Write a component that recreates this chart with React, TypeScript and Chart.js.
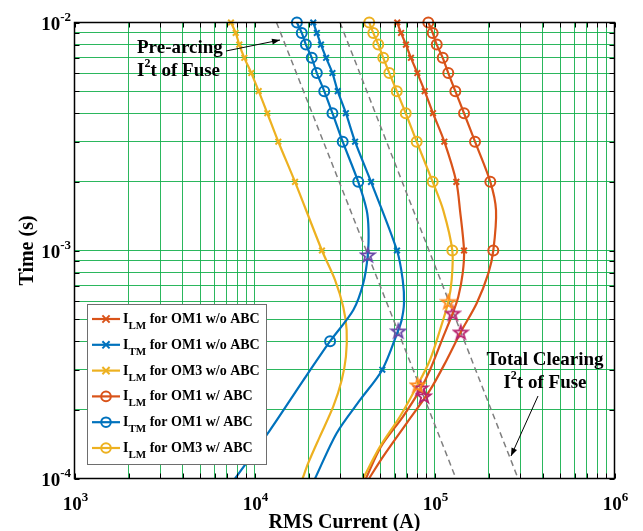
import React, { useEffect, useRef } from 'react';
import { Chart, registerables } from 'chart.js';

Chart.register(...registerables);

// ---------------- data (time in s, RMS current in A) ----------------
const lmOm1WoT = [0.01, 0.009, 0.008, 0.007, 0.006, 0.005, 0.004, 0.003, 0.002, 0.0015, 0.001, 0.000794, 0.000627, 0.00053, 0.000419, 0.000299, 0.000246, 0.000187, 0.000138, 0.0001];
const lmOm1WoI = [62100, 65200, 69400, 74000, 80300, 88200, 98100, 113400, 132200, 138600, 145900, 143400, 135600, 126200, 111900, 94400, 83400, 66800, 50400, 41600];
const lmOm1WoMk = [1, 1, 1, 1, 1, 1, 1, 1, 1, 0, 1, 0, 0, 0, 0, 0, 0, 0, 0, 0];

const tmOm1WoT = [0.01, 0.009, 0.008, 0.007, 0.006, 0.005, 0.004, 0.003, 0.002, 0.001, 0.000743, 0.000588, 0.000496, 0.000441, 0.0003, 0.000221, 0.000158, 0.0001];
const tmOm1WoI = [21200, 22200, 23400, 25000, 27100, 29000, 32200, 36200, 44400, 61900, 66600, 67700, 65700, 62500, 51300, 38600, 28600, 21700];
const tmOm1WoMk = [1, 1, 1, 1, 1, 1, 1, 1, 1, 1, 0, 0, 0, 0, 1, 0, 0, 0];

const lmOm3WoT = [0.01, 0.009, 0.008, 0.007, 0.006, 0.005, 0.004, 0.003, 0.002, 0.001, 0.000743, 0.000567, 0.000448, 0.000342, 0.00027, 0.000207, 0.000153, 0.000117, 0.0001];
const lmOm3WoI = [7400, 7860, 8230, 8780, 9600, 10550, 11780, 13560, 16790, 23700, 28000, 31100, 32500, 32200, 30500, 27400, 23100, 19900, 18500];
const lmOm3WoMk = [1, 1, 1, 1, 1, 1, 1, 1, 1, 1, 0, 0, 0, 0, 0, 0, 0, 0, 0];

const lmOm1WT = [0.01, 0.009, 0.008, 0.007, 0.006, 0.005, 0.004, 0.003, 0.002, 0.0015, 0.001, 0.000794, 0.000587, 0.000438, 0.000331, 0.000244, 0.000175, 0.000125, 0.0001];
const lmOm1WI = [92400, 97700, 102900, 111100, 119300, 130500, 145900, 167900, 204200, 219700, 212200, 199100, 171600, 139800, 116900, 94400, 70100, 51900, 43300];
const lmOm1WMk = [1, 1, 1, 1, 1, 1, 1, 1, 1, 0, 1, 0, 0, 0, 0, 0, 0, 0, 0];

const tmOm1WT = [0.01, 0.009, 0.008, 0.007, 0.006, 0.005, 0.004, 0.003, 0.002, 0.0015, 0.00123, 0.000956, 0.000718, 0.000548, 0.0004, 0.00027, 0.000163, 0.0001];
const tmOm1WI = [17200, 18300, 19300, 20800, 22200, 24400, 27100, 30900, 37700, 42000, 43000, 42600, 40200, 35400, 26300, 18700, 12200, 7800];
const tmOm1WMk = [1, 1, 1, 1, 1, 1, 1, 1, 1, 0, 0, 0, 0, 0, 1, 0, 0, 0];

const lmOm3WT = [0.01, 0.009, 0.008, 0.007, 0.006, 0.005, 0.004, 0.003, 0.002, 0.0015, 0.001, 0.000743, 0.000596, 0.000448, 0.000331, 0.000257, 0.000187, 0.000138, 0.0001];
const lmOm3WI = [43400, 45700, 48700, 51900, 56100, 61700, 69200, 79600, 97700, 111900, 125600, 124600, 119300, 107300, 94400, 80500, 64300, 49800, 40100];
const lmOm3WMk = [1, 1, 1, 1, 1, 1, 1, 1, 1, 0, 1, 0, 0, 0, 0, 0, 0, 0, 0];

// fuse I2t lines
const preArcI = [13250, 131600];
const preArcT = [0.01, 0.0001];
const totalClearI = [29850, 291200];
const totalClearT = [0.01, 0.0001];

// intersection stars
const starPurpleI = [42600, 62900];
const starPurpleT = [0.000956, 0.000443];
const starOrangeI = [119300, 80500];
const starOrangeT = [0.000596, 0.000257];
const starMagentaI = [126200, 139800, 83800, 87400];
const starMagentaT = [0.00053, 0.000438, 0.0002495, 0.00023];

// axes
const xTickValues = [1e3, 1e4, 1e5, 1e6];
const xTickLabels = [['10', '3'], ['10', '4'], ['10', '5'], ['10', '6']];
const yTickValues = [1e-2, 1e-3, 1e-4];
const yTickLabels = [['10', '-2'], ['10', '-3'], ['10', '-4']];
const xTitle = 'RMS Current (A)';
const yTitle = 'Time (s)';

// legend
const legendSub = ['LM', 'TM', 'LM', 'LM', 'TM', 'LM'];
const legendRest = [' for OM1 w/o ABC', ' for OM1 w/o ABC', ' for OM3 w/o ABC', ' for OM1 w/ ABC', ' for OM1 w/ ABC', ' for OM3 w/ ABC'];

// ---------------- styles ----------------
const BLUE = '#0072BD';
const RED = '#D95319';
const YELLOW = '#EDB120';
const PURPLE = '#6B48A8';
const ORANGE = '#FF8A1E';
const MAGENTA = '#B8246F';
const GRID = 'rgba(20,175,75,0.9)';
const FONT = '"Liberation Serif", "Times New Roman", Times, serif';

const legendColors = [RED, BLUE, YELLOW, RED, BLUE, YELLOW];
const legendMarkers = ['x', 'x', 'x', 'o', 'o', 'o'];

const toPts = (xs: number[], ys: number[]) => xs.map((x, i) => ({ x, y: ys[i] }));

function makeStar(color: string) {
  const c = document.createElement('canvas');
  c.width = 18;
  c.height = 18;
  const g = c.getContext('2d')!;
  g.beginPath();
  for (let i = 0; i < 10; i++) {
    const r = i % 2 === 0 ? 7.2 : 2.9;
    const a = -Math.PI / 2 + (i * Math.PI) / 5;
    const px = 9 + r * Math.cos(a);
    const py = 9.6 + r * Math.sin(a);
    if (i === 0) g.moveTo(px, py);
    else g.lineTo(px, py);
  }
  g.closePath();
  g.strokeStyle = color;
  g.lineWidth = 1.8;
  g.stroke();
  return c;
}

type Run = { t: string; s: number; dy: number };
function drawRuns(ctx: CanvasRenderingContext2D, runs: Run[], x: number, y: number, align: string) {
  let total = 0;
  const ws = runs.map((r) => {
    ctx.font = `bold ${r.s}px ${FONT}`;
    const w = ctx.measureText(r.t).width;
    total += w;
    return w;
  });
  let cx = align === 'center' ? x - total / 2 : align === 'right' ? x - total : x;
  ctx.textAlign = 'left';
  ctx.textBaseline = 'alphabetic';
  runs.forEach((r, i) => {
    ctx.font = `bold ${r.s}px ${FONT}`;
    ctx.fillText(r.t, cx, y + r.dy);
    cx += ws[i];
  });
}

function arrow(ctx: CanvasRenderingContext2D, x1: number, y1: number, x2: number, y2: number) {
  ctx.strokeStyle = '#000';
  ctx.fillStyle = '#000';
  ctx.lineWidth = 1;
  ctx.beginPath();
  ctx.moveTo(x1, y1);
  ctx.lineTo(x2, y2);
  ctx.stroke();
  const a = Math.atan2(y2 - y1, x2 - x1);
  const L = 8, W = 3;
  ctx.beginPath();
  ctx.moveTo(x2, y2);
  ctx.lineTo(x2 - L * Math.cos(a) + W * Math.sin(a), y2 - L * Math.sin(a) - W * Math.cos(a));
  ctx.lineTo(x2 - L * Math.cos(a) - W * Math.sin(a), y2 - L * Math.sin(a) + W * Math.cos(a));
  ctx.closePath();
  ctx.fill();
}

const overlay = {
  id: 'overlay',
  afterDraw(chart: any) {
    const ctx: CanvasRenderingContext2D = chart.ctx;
    const { left, right, top, bottom } = chart.chartArea;
    const xs = chart.scales.x;
    const ys = chart.scales.y;
    ctx.save();
    // frame and ticks
    ctx.strokeStyle = '#000';
    ctx.lineWidth = 1.5;
    ctx.strokeRect(left, top, right - left, bottom - top);
    ctx.lineWidth = 1;
    ctx.beginPath();
    xs.ticks.forEach((t: any) => {
      const px = Math.round(xs.getPixelForValue(t.value)) + 0.5;
      ctx.moveTo(px, bottom);
      ctx.lineTo(px, bottom - 5);
      ctx.moveTo(px, top);
      ctx.lineTo(px, top + 5);
    });
    ys.ticks.forEach((t: any) => {
      const py = Math.round(ys.getPixelForValue(t.value)) + 0.5;
      ctx.moveTo(left, py);
      ctx.lineTo(left + 5, py);
      ctx.moveTo(right, py);
      ctx.lineTo(right - 5, py);
    });
    ctx.stroke();

    ctx.fillStyle = '#000';
    // tick labels
    xTickValues.forEach((v, i) => {
      const px = xs.getPixelForValue(v);
      drawRuns(ctx, [{ t: xTickLabels[i][0], s: 19, dy: 0 }, { t: xTickLabels[i][1], s: 13, dy: -9 }], px + 1, 510, 'center');
    });
    yTickValues.forEach((v, i) => {
      const py = ys.getPixelForValue(v);
      drawRuns(ctx, [{ t: yTickLabels[i][0], s: 19, dy: 0 }, { t: yTickLabels[i][1], s: 13, dy: -9 }], 71, py + 7, 'right');
    });
    // axis titles
    ctx.font = `bold 20px ${FONT}`;
    ctx.textAlign = 'center';
    ctx.textBaseline = 'alphabetic';
    ctx.fillText(xTitle, (left + right) / 2, 528);
    ctx.save();
    ctx.translate(33, (top + bottom) / 2);
    ctx.rotate(-Math.PI / 2);
    ctx.fillText(yTitle, 0, 0);
    ctx.restore();

    // annotations
    drawRuns(ctx, [{ t: 'Pre-arcing', s: 19, dy: 0 }], 137, 53, 'left');
    drawRuns(ctx, [{ t: 'I', s: 19, dy: 0 }, { t: '2', s: 12, dy: -9 }, { t: 't of Fuse', s: 19, dy: 0 }], 137, 76, 'left');
    arrow(ctx, 226, 51, 280, 40);
    drawRuns(ctx, [{ t: 'Total Clearing', s: 19, dy: 0 }], 545, 365, 'center');
    drawRuns(ctx, [{ t: 'I', s: 19, dy: 0 }, { t: '2', s: 12, dy: -9 }, { t: 't of Fuse', s: 19, dy: 0 }], 545, 388, 'center');
    arrow(ctx, 538, 396, 511, 456);

    // legend
    const lx = 87.5, ly = 304.5, lw = 179, lh = 160;
    ctx.fillStyle = '#fff';
    ctx.fillRect(lx, ly, lw, lh);
    ctx.strokeStyle = '#6e6e6e';
    ctx.lineWidth = 1;
    ctx.strokeRect(lx, ly, lw, lh);
    for (let i = 0; i < 6; i++) {
      const cy = 319 + i * 25.8;
      const col = legendColors[i];
      ctx.strokeStyle = col;
      ctx.lineWidth = 2.2;
      ctx.beginPath();
      ctx.moveTo(92, cy);
      ctx.lineTo(120, cy);
      ctx.stroke();
      ctx.lineWidth = 2;
      ctx.beginPath();
      if (legendMarkers[i] === 'x') {
        const r = 3.6;
        ctx.moveTo(106 - r, cy - r);
        ctx.lineTo(106 + r, cy + r);
        ctx.moveTo(106 - r, cy + r);
        ctx.lineTo(106 + r, cy - r);
      } else {
        ctx.arc(106, cy, 4.8, 0, Math.PI * 2);
      }
      ctx.stroke();
      ctx.fillStyle = '#000';
      drawRuns(ctx, [{ t: 'I', s: 14, dy: 0 }, { t: legendSub[i], s: 11, dy: 6 }, { t: legendRest[i], s: 14, dy: 0 }], 123, cy + 4, 'left');
    }
    ctx.restore();
  },
};

export default function App() {
  const ref = useRef<HTMLCanvasElement | null>(null);
  useEffect(() => {
    const canvas = ref.current!;
    const starP = makeStar(PURPLE);
    const starO = makeStar(ORANGE);
    const starM = makeStar(MAGENTA);

    const curve = (xs: number[], ys: number[], mk: number[], color: string, marker: string, order: number) => ({
      data: toPts(xs, ys),
      showLine: true,
      borderColor: color,
      backgroundColor: color,
      borderWidth: 2.2,
      tension: 0.3,
      pointStyle: marker === 'x' ? 'crossRot' : 'circle',
      pointRadius: mk.map((m) => (m ? (marker === 'x' ? 4 : 5) : 0)),
      pointBorderWidth: 2,
      pointBorderColor: color,
      pointBackgroundColor: 'rgba(0,0,0,0)',
      clip: false as any,
      order,
    });
    const dashed = (xs: number[], ys: number[]) => ({
      data: toPts(xs, ys),
      showLine: true,
      borderColor: '#7f7f7f',
      borderWidth: 1.5,
      borderDash: [6, 4],
      pointRadius: 0,
      order: 20,
    });
    const stars = (xs: number[], ys: number[], img: HTMLCanvasElement) => ({
      data: toPts(xs, ys),
      showLine: false,
      pointStyle: img,
      pointRadius: 7,
      clip: false as any,
      order: 1,
    });

    const chart = new Chart(canvas, {
      type: 'scatter',
      data: {
        datasets: [
          dashed(preArcI, preArcT),
          dashed(totalClearI, totalClearT),
          curve(lmOm1WoI, lmOm1WoT, lmOm1WoMk, RED, 'x', 10),
          curve(tmOm1WoI, tmOm1WoT, tmOm1WoMk, BLUE, 'x', 9),
          curve(lmOm3WoI, lmOm3WoT, lmOm3WoMk, YELLOW, 'x', 8),
          curve(lmOm1WI, lmOm1WT, lmOm1WMk, RED, 'o', 7),
          curve(tmOm1WI, tmOm1WT, tmOm1WMk, BLUE, 'o', 6),
          curve(lmOm3WI, lmOm3WT, lmOm3WMk, YELLOW, 'o', 5),
          stars(starPurpleI, starPurpleT, starP),
          stars(starOrangeI, starOrangeT, starO),
          stars(starMagentaI, starMagentaT, starM),
        ] as any,
      },
      options: {
        animation: false,
        responsive: false,
        devicePixelRatio: 1,
        layout: { padding: { left: 74.5, top: 22.5, right: 28.5, bottom: 52.5 } },
        plugins: { legend: { display: false }, tooltip: { enabled: false } },
        events: [],
        scales: {
          x: {
            type: 'logarithmic',
            min: 1e3,
            max: 1e6,
            afterBuildTicks: (s: any) => {
              const t: any[] = [];
              for (let e = 3; e <= 5; e++) for (let m = 1; m <= 9; m++) t.push({ value: m * Math.pow(10, e) });
              t.push({ value: 1e6 });
              s.ticks = t;
            },
            ticks: { display: false },
            grid: { color: GRID, lineWidth: 1, drawTicks: false },
            border: { display: false },
          },
          y: {
            type: 'logarithmic',
            min: 1e-4,
            max: 1e-2,
            afterBuildTicks: (s: any) => {
              const t: any[] = [];
              for (let e = -4; e <= -3; e++) for (let m = 1; m <= 9; m++) t.push({ value: m * Math.pow(10, e) });
              t.push({ value: 1e-2 });
              s.ticks = t;
            },
            ticks: { display: false },
            grid: { color: GRID, lineWidth: 1, drawTicks: false },
            border: { display: false },
          },
        },
      } as any,
      plugins: [overlay],
    });
    return () => chart.destroy();
  }, []);

  return (
    <div style={{ position: 'absolute', left: 0, top: 0, width: 643, height: 531, background: '#fff' }}>
      <canvas ref={ref} width={643} height={531} style={{ display: 'block' }} />
    </div>
  );
}
